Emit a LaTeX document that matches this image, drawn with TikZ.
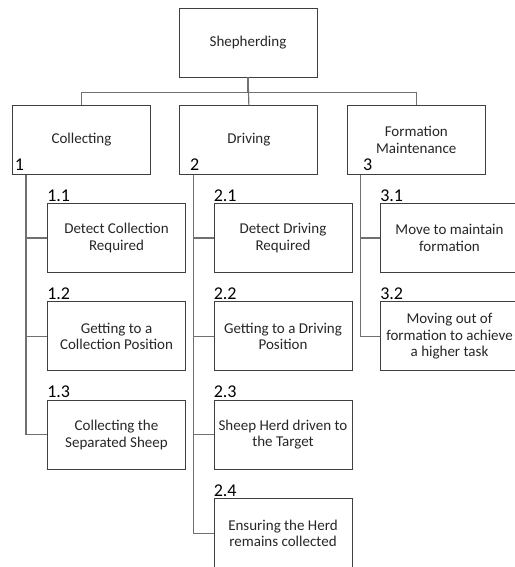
\documentclass[tikz,border=0pt]{standalone}
\usepackage{fontspec}
\setmainfont{Carlito}
\usetikzlibrary{positioning}
\definecolor{boxline}{HTML}{3F3F3F}
\definecolor{linkline}{HTML}{707070}
\definecolor{txt}{HTML}{262626}
\tikzset{
  task/.style={
    rectangle,
    draw=boxline,
    line width=0.9pt,
    align=center,
    minimum width=138pt,
    minimum height=69pt,
    inner sep=2pt,
    text=txt,
    font=\fontsize{15}{16.5}\selectfont
  },
  num/.style={inner sep=0pt, text=black, font=\fontsize{18}{18}\selectfont},
  link/.style={draw=linkline, line width=1.2pt}
}

\begin{document}
\begin{tikzpicture}[x=1pt, y=-1pt, node distance=28.5pt and 28.5pt]
  \useasboundingbox (0,0) rectangle (514,567);

  \node[task] (shep) at (248,42.5) {Shepherding};
  \node[task] (coll) at (81.5,140) {Collecting};
  \node[task, right=of coll] (driv) {Driving};
  \node[task, right=of driv] (form) {Formation\\Maintenance};

  \node[num, anchor=base west] (n1) at ([xshift=2.5pt,yshift=4.5pt]coll.south west) {1};
  \node[num, anchor=base west] (n2) at ([xshift=10.5pt,yshift=4.5pt]driv.south west) {2};
  \node[num, anchor=base west] (n3) at ([xshift=16pt,yshift=4.5pt]form.south west) {3};

  % collecting
  \node[task] (c11) at (116.5,238) {Detect Collection\\Required};
  \node[task, below=of c11] (c12) {Getting to a\\Collection Position};
  \node[task, below=of c12] (c13) {Collecting the\\Separated Sheep};

  % driving
  \node[task] (c21) at (283,238) {Detect Driving\\Required};
  \node[task, below=of c21] (c22) {Getting to a Driving\\Position};
  \node[task, below=of c22] (c23) {Sheep Herd driven to\\the Target};
  \node[task, below=of c23] (c24) {Ensuring the Herd\\remains collected};

  % formation
  \node[task] (c31) at (449.5,238) {Move to maintain\\formation};
  \node[task, below=of c31] (c32) {Moving out of\\formation to achieve\\a higher task};

  \foreach \c/\t in {c11/1.1, c12/1.2, c13/1.3, c21/2.1, c22/2.2, c23/2.3, c24/2.4, c31/3.1, c32/3.2}
    \node[num, anchor=base west] (n\c) at ([yshift=2pt]\c.north west) {\t};

  \draw[link] (shep.south) -- ++(0,15) -| (coll.north);
  \draw[link] (shep.south) -- (driv.north);
  \draw[link] (shep.south) -- ++(0,15) -| (form.north);

  \foreach \c in {c11, c12, c13}
    \draw[link] ([xshift=14pt]coll.south west) |- (\c.west);
  \foreach \c in {c21, c22, c23, c24}
    \draw[link] ([xshift=14pt]driv.south west) |- (\c.west);
  \foreach \c in {c31, c32}
    \draw[link] ([xshift=14pt]form.south west) |- (\c.west);
\end{tikzpicture}
\end{document}
